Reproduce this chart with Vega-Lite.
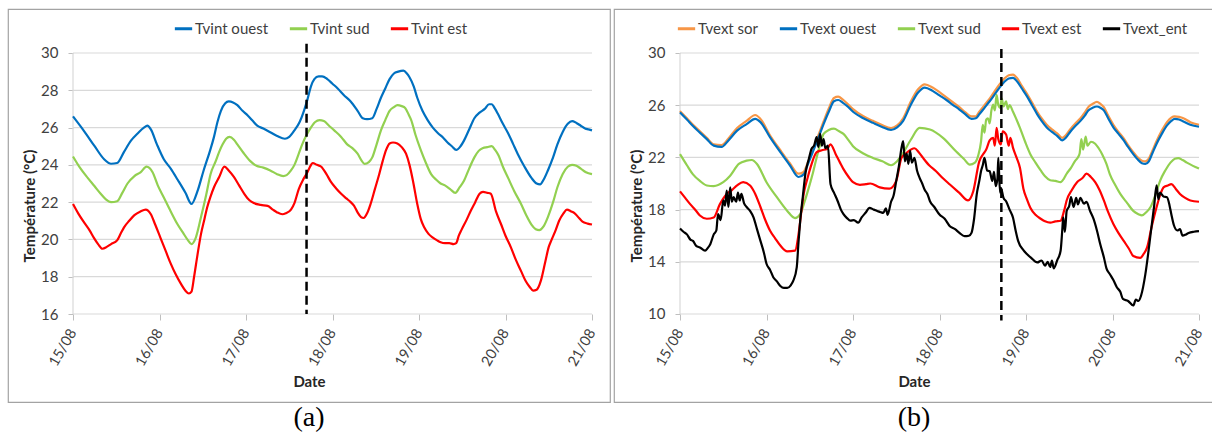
{
"$schema":"https://vega.github.io/schema/vega-lite/v6.json",
"background":"white",
"padding":{"left":7,"top":8,"right":0,"bottom":0},
"spacing":2,
"resolve":{"scale":{"color":"independent"},"legend":{"color":"independent"}},
"config":{
 "view":{"stroke":"#a3a3a3","strokeWidth":1.2},
 "font":"Lato",
 "axis":{"domain":false,"grid":false,"tickColor":"#bfbfbf","tickWidth":1,"labelFont":"Lato","labelColor":"#404040","titleFont":"Lato","titleFontSize":15,"titleFontWeight":"bold","titleColor":"#262626","labelFlush":false,"labelOverlap":false,"labelBound":false},
 "axisX":{"labelFontSize":14.5},
 "axisY":{"labelFontSize":15},
 "legend":{"orient":"none","direction":"horizontal","title":null,"symbolType":"stroke","symbolSize":300,"symbolStrokeWidth":3,"labelFont":"Lato","labelFontSize":15,"labelColor":"#404040","labelOffset":1,"columnPadding":14,"padding":0}
},
"datasets":{
"a":[
{"s":"Tvint ouest","d":15.00,"T":26.6},{"s":"Tvint ouest","d":15.13,"T":25.8},{"s":"Tvint ouest","d":15.25,"T":25.0},{"s":"Tvint ouest","d":15.36,"T":24.3},{"s":"Tvint ouest","d":15.44,"T":24.06},{"s":"Tvint ouest","d":15.51,"T":24.1},{"s":"Tvint ouest","d":15.59,"T":24.7},{"s":"Tvint ouest","d":15.67,"T":25.3},{"s":"Tvint ouest","d":15.75,"T":25.7},{"s":"Tvint ouest","d":15.82,"T":26.0},{"s":"Tvint ouest","d":15.86,"T":26.1},{"s":"Tvint ouest","d":15.90,"T":25.9},{"s":"Tvint ouest","d":15.97,"T":25.1},{"s":"Tvint ouest","d":16.05,"T":24.3},{"s":"Tvint ouest","d":16.13,"T":23.8},{"s":"Tvint ouest","d":16.21,"T":23.2},{"s":"Tvint ouest","d":16.30,"T":22.5},{"s":"Tvint ouest","d":16.37,"T":21.9},{"s":"Tvint ouest","d":16.44,"T":22.6},{"s":"Tvint ouest","d":16.51,"T":23.7},{"s":"Tvint ouest","d":16.58,"T":24.7},{"s":"Tvint ouest","d":16.63,"T":25.5},{"s":"Tvint ouest","d":16.67,"T":26.3},{"s":"Tvint ouest","d":16.71,"T":26.9},{"s":"Tvint ouest","d":16.76,"T":27.3},{"s":"Tvint ouest","d":16.80,"T":27.4},{"s":"Tvint ouest","d":16.85,"T":27.35},{"s":"Tvint ouest","d":16.90,"T":27.2},{"s":"Tvint ouest","d":16.96,"T":26.9},{"s":"Tvint ouest","d":17.02,"T":26.65},{"s":"Tvint ouest","d":17.08,"T":26.35},{"s":"Tvint ouest","d":17.13,"T":26.1},{"s":"Tvint ouest","d":17.20,"T":25.95},{"s":"Tvint ouest","d":17.28,"T":25.75},{"s":"Tvint ouest","d":17.36,"T":25.55},{"s":"Tvint ouest","d":17.45,"T":25.4},{"s":"Tvint ouest","d":17.50,"T":25.5},{"s":"Tvint ouest","d":17.56,"T":25.85},{"s":"Tvint ouest","d":17.62,"T":26.3},{"s":"Tvint ouest","d":17.67,"T":26.9},{"s":"Tvint ouest","d":17.71,"T":27.5},{"s":"Tvint ouest","d":17.75,"T":28.2},{"s":"Tvint ouest","d":17.79,"T":28.6},{"s":"Tvint ouest","d":17.84,"T":28.75},{"s":"Tvint ouest","d":17.88,"T":28.75},{"s":"Tvint ouest","d":17.94,"T":28.6},{"s":"Tvint ouest","d":18.00,"T":28.35},{"s":"Tvint ouest","d":18.06,"T":28.1},{"s":"Tvint ouest","d":18.13,"T":27.75},{"s":"Tvint ouest","d":18.21,"T":27.4},{"s":"Tvint ouest","d":18.29,"T":26.9},{"s":"Tvint ouest","d":18.35,"T":26.5},{"s":"Tvint ouest","d":18.40,"T":26.45},{"s":"Tvint ouest","d":18.46,"T":26.5},{"s":"Tvint ouest","d":18.51,"T":27.0},{"s":"Tvint ouest","d":18.56,"T":27.6},{"s":"Tvint ouest","d":18.61,"T":28.1},{"s":"Tvint ouest","d":18.66,"T":28.6},{"s":"Tvint ouest","d":18.71,"T":28.9},{"s":"Tvint ouest","d":18.76,"T":29.0},{"s":"Tvint ouest","d":18.82,"T":29.05},{"s":"Tvint ouest","d":18.86,"T":28.9},{"s":"Tvint ouest","d":18.89,"T":28.7},{"s":"Tvint ouest","d":18.94,"T":28.2},{"s":"Tvint ouest","d":18.98,"T":27.6},{"s":"Tvint ouest","d":19.04,"T":26.9},{"s":"Tvint ouest","d":19.10,"T":26.4},{"s":"Tvint ouest","d":19.16,"T":26.0},{"s":"Tvint ouest","d":19.22,"T":25.7},{"s":"Tvint ouest","d":19.28,"T":25.45},{"s":"Tvint ouest","d":19.33,"T":25.2},{"s":"Tvint ouest","d":19.38,"T":25.0},{"s":"Tvint ouest","d":19.43,"T":24.8},{"s":"Tvint ouest","d":19.48,"T":25.0},{"s":"Tvint ouest","d":19.52,"T":25.3},{"s":"Tvint ouest","d":19.58,"T":25.9},{"s":"Tvint ouest","d":19.64,"T":26.5},{"s":"Tvint ouest","d":19.70,"T":26.8},{"s":"Tvint ouest","d":19.76,"T":27.0},{"s":"Tvint ouest","d":19.81,"T":27.25},{"s":"Tvint ouest","d":19.84,"T":27.25},{"s":"Tvint ouest","d":19.88,"T":27.0},{"s":"Tvint ouest","d":19.91,"T":26.75},{"s":"Tvint ouest","d":19.97,"T":26.2},{"s":"Tvint ouest","d":20.03,"T":25.7},{"s":"Tvint ouest","d":20.09,"T":25.1},{"s":"Tvint ouest","d":20.14,"T":24.6},{"s":"Tvint ouest","d":20.22,"T":23.9},{"s":"Tvint ouest","d":20.30,"T":23.3},{"s":"Tvint ouest","d":20.36,"T":23.0},{"s":"Tvint ouest","d":20.40,"T":22.95},{"s":"Tvint ouest","d":20.44,"T":23.2},{"s":"Tvint ouest","d":20.49,"T":23.7},{"s":"Tvint ouest","d":20.55,"T":24.4},{"s":"Tvint ouest","d":20.60,"T":25.1},{"s":"Tvint ouest","d":20.66,"T":25.75},{"s":"Tvint ouest","d":20.72,"T":26.2},{"s":"Tvint ouest","d":20.77,"T":26.35},{"s":"Tvint ouest","d":20.82,"T":26.25},{"s":"Tvint ouest","d":20.87,"T":26.1},{"s":"Tvint ouest","d":20.92,"T":25.95},{"s":"Tvint ouest","d":20.96,"T":25.9},{"s":"Tvint ouest","d":21.00,"T":25.85},
{"s":"Tvint sud","d":15.00,"T":24.45},{"s":"Tvint sud","d":15.08,"T":23.85},{"s":"Tvint sud","d":15.17,"T":23.3},{"s":"Tvint sud","d":15.25,"T":22.85},{"s":"Tvint sud","d":15.32,"T":22.45},{"s":"Tvint sud","d":15.38,"T":22.15},{"s":"Tvint sud","d":15.44,"T":22.0},{"s":"Tvint sud","d":15.51,"T":22.05},{"s":"Tvint sud","d":15.57,"T":22.5},{"s":"Tvint sud","d":15.63,"T":23.0},{"s":"Tvint sud","d":15.71,"T":23.4},{"s":"Tvint sud","d":15.78,"T":23.6},{"s":"Tvint sud","d":15.85,"T":23.9},{"s":"Tvint sud","d":15.92,"T":23.6},{"s":"Tvint sud","d":15.98,"T":22.9},{"s":"Tvint sud","d":16.05,"T":22.25},{"s":"Tvint sud","d":16.13,"T":21.5},{"s":"Tvint sud","d":16.21,"T":20.8},{"s":"Tvint sud","d":16.28,"T":20.3},{"s":"Tvint sud","d":16.33,"T":19.95},{"s":"Tvint sud","d":16.37,"T":19.75},{"s":"Tvint sud","d":16.42,"T":20.1},{"s":"Tvint sud","d":16.48,"T":21.2},{"s":"Tvint sud","d":16.54,"T":22.4},{"s":"Tvint sud","d":16.59,"T":23.5},{"s":"Tvint sud","d":16.65,"T":24.2},{"s":"Tvint sud","d":16.69,"T":24.7},{"s":"Tvint sud","d":16.73,"T":25.1},{"s":"Tvint sud","d":16.77,"T":25.4},{"s":"Tvint sud","d":16.81,"T":25.5},{"s":"Tvint sud","d":16.86,"T":25.35},{"s":"Tvint sud","d":16.90,"T":25.1},{"s":"Tvint sud","d":16.97,"T":24.65},{"s":"Tvint sud","d":17.05,"T":24.2},{"s":"Tvint sud","d":17.12,"T":23.95},{"s":"Tvint sud","d":17.20,"T":23.85},{"s":"Tvint sud","d":17.28,"T":23.7},{"s":"Tvint sud","d":17.36,"T":23.5},{"s":"Tvint sud","d":17.43,"T":23.4},{"s":"Tvint sud","d":17.47,"T":23.45},{"s":"Tvint sud","d":17.52,"T":23.7},{"s":"Tvint sud","d":17.56,"T":24.0},{"s":"Tvint sud","d":17.61,"T":24.6},{"s":"Tvint sud","d":17.65,"T":25.1},{"s":"Tvint sud","d":17.70,"T":25.6},{"s":"Tvint sud","d":17.75,"T":26.0},{"s":"Tvint sud","d":17.80,"T":26.3},{"s":"Tvint sud","d":17.85,"T":26.4},{"s":"Tvint sud","d":17.90,"T":26.35},{"s":"Tvint sud","d":17.96,"T":26.1},{"s":"Tvint sud","d":18.02,"T":25.85},{"s":"Tvint sud","d":18.10,"T":25.5},{"s":"Tvint sud","d":18.17,"T":25.1},{"s":"Tvint sud","d":18.23,"T":24.9},{"s":"Tvint sud","d":18.29,"T":24.6},{"s":"Tvint sud","d":18.34,"T":24.2},{"s":"Tvint sud","d":18.37,"T":24.05},{"s":"Tvint sud","d":18.42,"T":24.15},{"s":"Tvint sud","d":18.46,"T":24.4},{"s":"Tvint sud","d":18.51,"T":25.1},{"s":"Tvint sud","d":18.56,"T":25.85},{"s":"Tvint sud","d":18.61,"T":26.4},{"s":"Tvint sud","d":18.66,"T":26.9},{"s":"Tvint sud","d":18.71,"T":27.1},{"s":"Tvint sud","d":18.75,"T":27.2},{"s":"Tvint sud","d":18.80,"T":27.15},{"s":"Tvint sud","d":18.84,"T":27.05},{"s":"Tvint sud","d":18.88,"T":26.7},{"s":"Tvint sud","d":18.91,"T":26.4},{"s":"Tvint sud","d":18.96,"T":25.6},{"s":"Tvint sud","d":19.02,"T":24.8},{"s":"Tvint sud","d":19.08,"T":24.1},{"s":"Tvint sud","d":19.14,"T":23.5},{"s":"Tvint sud","d":19.20,"T":23.2},{"s":"Tvint sud","d":19.25,"T":23.0},{"s":"Tvint sud","d":19.30,"T":22.9},{"s":"Tvint sud","d":19.36,"T":22.7},{"s":"Tvint sud","d":19.42,"T":22.5},{"s":"Tvint sud","d":19.47,"T":22.8},{"s":"Tvint sud","d":19.52,"T":23.15},{"s":"Tvint sud","d":19.58,"T":23.8},{"s":"Tvint sud","d":19.64,"T":24.4},{"s":"Tvint sud","d":19.69,"T":24.75},{"s":"Tvint sud","d":19.74,"T":24.9},{"s":"Tvint sud","d":19.79,"T":24.95},{"s":"Tvint sud","d":19.84,"T":25.0},{"s":"Tvint sud","d":19.88,"T":24.8},{"s":"Tvint sud","d":19.92,"T":24.5},{"s":"Tvint sud","d":19.97,"T":23.9},{"s":"Tvint sud","d":20.03,"T":23.3},{"s":"Tvint sud","d":20.10,"T":22.6},{"s":"Tvint sud","d":20.18,"T":21.9},{"s":"Tvint sud","d":20.24,"T":21.3},{"s":"Tvint sud","d":20.30,"T":20.8},{"s":"Tvint sud","d":20.35,"T":20.55},{"s":"Tvint sud","d":20.39,"T":20.5},{"s":"Tvint sud","d":20.44,"T":20.7},{"s":"Tvint sud","d":20.49,"T":21.2},{"s":"Tvint sud","d":20.55,"T":22.0},{"s":"Tvint sud","d":20.60,"T":22.8},{"s":"Tvint sud","d":20.66,"T":23.5},{"s":"Tvint sud","d":20.72,"T":23.9},{"s":"Tvint sud","d":20.77,"T":24.0},{"s":"Tvint sud","d":20.82,"T":23.95},{"s":"Tvint sud","d":20.87,"T":23.8},{"s":"Tvint sud","d":20.93,"T":23.6},{"s":"Tvint sud","d":21.00,"T":23.5},
{"s":"Tvint est","d":15.00,"T":21.9},{"s":"Tvint est","d":15.06,"T":21.4},{"s":"Tvint est","d":15.13,"T":20.9},{"s":"Tvint est","d":15.19,"T":20.5},{"s":"Tvint est","d":15.24,"T":20.1},{"s":"Tvint est","d":15.29,"T":19.75},{"s":"Tvint est","d":15.34,"T":19.5},{"s":"Tvint est","d":15.39,"T":19.6},{"s":"Tvint est","d":15.44,"T":19.75},{"s":"Tvint est","d":15.51,"T":19.95},{"s":"Tvint est","d":15.55,"T":20.3},{"s":"Tvint est","d":15.59,"T":20.65},{"s":"Tvint est","d":15.65,"T":21.0},{"s":"Tvint est","d":15.71,"T":21.3},{"s":"Tvint est","d":15.78,"T":21.5},{"s":"Tvint est","d":15.84,"T":21.6},{"s":"Tvint est","d":15.90,"T":21.35},{"s":"Tvint est","d":15.95,"T":20.8},{"s":"Tvint est","d":16.01,"T":20.1},{"s":"Tvint est","d":16.07,"T":19.4},{"s":"Tvint est","d":16.13,"T":18.7},{"s":"Tvint est","d":16.19,"T":18.1},{"s":"Tvint est","d":16.25,"T":17.6},{"s":"Tvint est","d":16.30,"T":17.25},{"s":"Tvint est","d":16.34,"T":17.1},{"s":"Tvint est","d":16.37,"T":17.2},{"s":"Tvint est","d":16.40,"T":18.0},{"s":"Tvint est","d":16.44,"T":19.2},{"s":"Tvint est","d":16.48,"T":20.3},{"s":"Tvint est","d":16.52,"T":21.1},{"s":"Tvint est","d":16.55,"T":21.7},{"s":"Tvint est","d":16.59,"T":22.3},{"s":"Tvint est","d":16.63,"T":22.8},{"s":"Tvint est","d":16.69,"T":23.35},{"s":"Tvint est","d":16.75,"T":23.9},{"s":"Tvint est","d":16.80,"T":23.7},{"s":"Tvint est","d":16.86,"T":23.35},{"s":"Tvint est","d":16.92,"T":22.9},{"s":"Tvint est","d":16.98,"T":22.45},{"s":"Tvint est","d":17.04,"T":22.1},{"s":"Tvint est","d":17.09,"T":21.95},{"s":"Tvint est","d":17.17,"T":21.85},{"s":"Tvint est","d":17.25,"T":21.8},{"s":"Tvint est","d":17.31,"T":21.6},{"s":"Tvint est","d":17.36,"T":21.45},{"s":"Tvint est","d":17.42,"T":21.35},{"s":"Tvint est","d":17.46,"T":21.4},{"s":"Tvint est","d":17.52,"T":21.6},{"s":"Tvint est","d":17.56,"T":21.95},{"s":"Tvint est","d":17.61,"T":22.7},{"s":"Tvint est","d":17.66,"T":23.2},{"s":"Tvint est","d":17.71,"T":23.6},{"s":"Tvint est","d":17.74,"T":23.9},{"s":"Tvint est","d":17.77,"T":24.1},{"s":"Tvint est","d":17.82,"T":24.0},{"s":"Tvint est","d":17.87,"T":23.9},{"s":"Tvint est","d":17.93,"T":23.5},{"s":"Tvint est","d":17.98,"T":23.1},{"s":"Tvint est","d":18.04,"T":22.75},{"s":"Tvint est","d":18.10,"T":22.45},{"s":"Tvint est","d":18.16,"T":22.2},{"s":"Tvint est","d":18.21,"T":22.0},{"s":"Tvint est","d":18.25,"T":21.8},{"s":"Tvint est","d":18.29,"T":21.45},{"s":"Tvint est","d":18.33,"T":21.2},{"s":"Tvint est","d":18.36,"T":21.15},{"s":"Tvint est","d":18.40,"T":21.4},{"s":"Tvint est","d":18.44,"T":21.9},{"s":"Tvint est","d":18.49,"T":22.7},{"s":"Tvint est","d":18.54,"T":23.5},{"s":"Tvint est","d":18.58,"T":24.2},{"s":"Tvint est","d":18.62,"T":24.8},{"s":"Tvint est","d":18.66,"T":25.15},{"s":"Tvint est","d":18.70,"T":25.2},{"s":"Tvint est","d":18.75,"T":25.15},{"s":"Tvint est","d":18.80,"T":24.95},{"s":"Tvint est","d":18.85,"T":24.6},{"s":"Tvint est","d":18.89,"T":24.0},{"s":"Tvint est","d":18.93,"T":23.15},{"s":"Tvint est","d":18.98,"T":21.9},{"s":"Tvint est","d":19.02,"T":21.1},{"s":"Tvint est","d":19.06,"T":20.65},{"s":"Tvint est","d":19.11,"T":20.3},{"s":"Tvint est","d":19.16,"T":20.1},{"s":"Tvint est","d":19.21,"T":19.95},{"s":"Tvint est","d":19.25,"T":19.85},{"s":"Tvint est","d":19.30,"T":19.8},{"s":"Tvint est","d":19.35,"T":19.8},{"s":"Tvint est","d":19.40,"T":19.75},{"s":"Tvint est","d":19.43,"T":19.8},{"s":"Tvint est","d":19.46,"T":20.2},{"s":"Tvint est","d":19.49,"T":20.5},{"s":"Tvint est","d":19.55,"T":21.05},{"s":"Tvint est","d":19.60,"T":21.55},{"s":"Tvint est","d":19.65,"T":22.0},{"s":"Tvint est","d":19.70,"T":22.45},{"s":"Tvint est","d":19.74,"T":22.55},{"s":"Tvint est","d":19.79,"T":22.5},{"s":"Tvint est","d":19.83,"T":22.45},{"s":"Tvint est","d":19.89,"T":21.5},{"s":"Tvint est","d":19.95,"T":20.8},{"s":"Tvint est","d":20.00,"T":20.2},{"s":"Tvint est","d":20.06,"T":19.6},{"s":"Tvint est","d":20.12,"T":18.9},{"s":"Tvint est","d":20.18,"T":18.3},{"s":"Tvint est","d":20.23,"T":17.8},{"s":"Tvint est","d":20.28,"T":17.45},{"s":"Tvint est","d":20.32,"T":17.25},{"s":"Tvint est","d":20.36,"T":17.3},{"s":"Tvint est","d":20.41,"T":17.8},{"s":"Tvint est","d":20.46,"T":18.8},{"s":"Tvint est","d":20.50,"T":19.6},{"s":"Tvint est","d":20.53,"T":19.95},{"s":"Tvint est","d":20.58,"T":20.5},{"s":"Tvint est","d":20.62,"T":21.0},{"s":"Tvint est","d":20.67,"T":21.4},{"s":"Tvint est","d":20.71,"T":21.6},{"s":"Tvint est","d":20.76,"T":21.5},{"s":"Tvint est","d":20.80,"T":21.4},{"s":"Tvint est","d":20.85,"T":21.15},{"s":"Tvint est","d":20.89,"T":20.95},{"s":"Tvint est","d":20.95,"T":20.85},{"s":"Tvint est","d":21.00,"T":20.8}
],
"b":[
{"s":"Tvext sor","d":15.00,"T":25.55},{"s":"Tvext sor","d":15.08,"T":25.0},{"s":"Tvext sor","d":15.15,"T":24.5},{"s":"Tvext sor","d":15.23,"T":24.0},{"s":"Tvext sor","d":15.31,"T":23.5},{"s":"Tvext sor","d":15.39,"T":23.0},{"s":"Tvext sor","d":15.48,"T":22.95},{"s":"Tvext sor","d":15.56,"T":23.45},{"s":"Tvext sor","d":15.66,"T":24.25},{"s":"Tvext sor","d":15.77,"T":24.8},{"s":"Tvext sor","d":15.87,"T":25.25},{"s":"Tvext sor","d":15.93,"T":24.95},{"s":"Tvext sor","d":16.04,"T":23.7},{"s":"Tvext sor","d":16.16,"T":22.55},{"s":"Tvext sor","d":16.27,"T":21.55},{"s":"Tvext sor","d":16.37,"T":20.75},{"s":"Tvext sor","d":16.43,"T":20.9},{"s":"Tvext sor","d":16.48,"T":21.65},{"s":"Tvext sor","d":16.54,"T":22.65},{"s":"Tvext sor","d":16.60,"T":23.7},{"s":"Tvext sor","d":16.66,"T":24.75},{"s":"Tvext sor","d":16.72,"T":25.75},{"s":"Tvext sor","d":16.78,"T":26.55},{"s":"Tvext sor","d":16.83,"T":26.65},{"s":"Tvext sor","d":16.88,"T":26.45},{"s":"Tvext sor","d":16.93,"T":26.15},{"s":"Tvext sor","d":17.00,"T":25.7},{"s":"Tvext sor","d":17.12,"T":25.15},{"s":"Tvext sor","d":17.23,"T":24.8},{"s":"Tvext sor","d":17.33,"T":24.5},{"s":"Tvext sor","d":17.44,"T":24.25},{"s":"Tvext sor","d":17.51,"T":24.45},{"s":"Tvext sor","d":17.58,"T":25.0},{"s":"Tvext sor","d":17.67,"T":26.3},{"s":"Tvext sor","d":17.75,"T":27.2},{"s":"Tvext sor","d":17.83,"T":27.6},{"s":"Tvext sor","d":17.92,"T":27.35},{"s":"Tvext sor","d":18.00,"T":27.0},{"s":"Tvext sor","d":18.08,"T":26.6},{"s":"Tvext sor","d":18.15,"T":26.25},{"s":"Tvext sor","d":18.23,"T":25.85},{"s":"Tvext sor","d":18.30,"T":25.45},{"s":"Tvext sor","d":18.37,"T":25.15},{"s":"Tvext sor","d":18.42,"T":25.15},{"s":"Tvext sor","d":18.46,"T":25.5},{"s":"Tvext sor","d":18.52,"T":26.0},{"s":"Tvext sor","d":18.58,"T":26.5},{"s":"Tvext sor","d":18.64,"T":27.1},{"s":"Tvext sor","d":18.70,"T":27.65},{"s":"Tvext sor","d":18.75,"T":28.05},{"s":"Tvext sor","d":18.80,"T":28.3},{"s":"Tvext sor","d":18.85,"T":28.35},{"s":"Tvext sor","d":18.90,"T":28.05},{"s":"Tvext sor","d":18.95,"T":27.5},{"s":"Tvext sor","d":19.01,"T":26.9},{"s":"Tvext sor","d":19.07,"T":26.2},{"s":"Tvext sor","d":19.13,"T":25.5},{"s":"Tvext sor","d":19.18,"T":25.0},{"s":"Tvext sor","d":19.24,"T":24.5},{"s":"Tvext sor","d":19.30,"T":24.15},{"s":"Tvext sor","d":19.36,"T":23.85},{"s":"Tvext sor","d":19.42,"T":23.5},{"s":"Tvext sor","d":19.46,"T":23.7},{"s":"Tvext sor","d":19.51,"T":24.15},{"s":"Tvext sor","d":19.57,"T":24.6},{"s":"Tvext sor","d":19.63,"T":25.0},{"s":"Tvext sor","d":19.68,"T":25.45},{"s":"Tvext sor","d":19.72,"T":25.85},{"s":"Tvext sor","d":19.77,"T":26.1},{"s":"Tvext sor","d":19.82,"T":26.25},{"s":"Tvext sor","d":19.86,"T":26.1},{"s":"Tvext sor","d":19.90,"T":25.85},{"s":"Tvext sor","d":19.95,"T":25.2},{"s":"Tvext sor","d":20.01,"T":24.5},{"s":"Tvext sor","d":20.07,"T":23.95},{"s":"Tvext sor","d":20.13,"T":23.45},{"s":"Tvext sor","d":20.18,"T":22.95},{"s":"Tvext sor","d":20.24,"T":22.4},{"s":"Tvext sor","d":20.29,"T":22.0},{"s":"Tvext sor","d":20.34,"T":21.75},{"s":"Tvext sor","d":20.38,"T":21.7},{"s":"Tvext sor","d":20.42,"T":21.9},{"s":"Tvext sor","d":20.46,"T":22.5},{"s":"Tvext sor","d":20.51,"T":23.25},{"s":"Tvext sor","d":20.57,"T":24.05},{"s":"Tvext sor","d":20.63,"T":24.7},{"s":"Tvext sor","d":20.68,"T":25.05},{"s":"Tvext sor","d":20.72,"T":25.15},{"s":"Tvext sor","d":20.77,"T":25.1},{"s":"Tvext sor","d":20.82,"T":25.0},{"s":"Tvext sor","d":20.90,"T":24.7},{"s":"Tvext sor","d":21.00,"T":24.5},
{"s":"Tvext ouest","d":15.00,"T":25.45},{"s":"Tvext ouest","d":15.08,"T":24.9},{"s":"Tvext ouest","d":15.15,"T":24.4},{"s":"Tvext ouest","d":15.23,"T":23.9},{"s":"Tvext ouest","d":15.31,"T":23.4},{"s":"Tvext ouest","d":15.39,"T":22.9},{"s":"Tvext ouest","d":15.48,"T":22.8},{"s":"Tvext ouest","d":15.56,"T":23.3},{"s":"Tvext ouest","d":15.66,"T":24.05},{"s":"Tvext ouest","d":15.77,"T":24.55},{"s":"Tvext ouest","d":15.87,"T":24.95},{"s":"Tvext ouest","d":15.93,"T":24.7},{"s":"Tvext ouest","d":16.04,"T":23.55},{"s":"Tvext ouest","d":16.16,"T":22.4},{"s":"Tvext ouest","d":16.27,"T":21.4},{"s":"Tvext ouest","d":16.37,"T":20.5},{"s":"Tvext ouest","d":16.43,"T":20.7},{"s":"Tvext ouest","d":16.48,"T":21.5},{"s":"Tvext ouest","d":16.54,"T":22.5},{"s":"Tvext ouest","d":16.60,"T":23.5},{"s":"Tvext ouest","d":16.66,"T":24.55},{"s":"Tvext ouest","d":16.72,"T":25.5},{"s":"Tvext ouest","d":16.78,"T":26.3},{"s":"Tvext ouest","d":16.83,"T":26.4},{"s":"Tvext ouest","d":16.88,"T":26.2},{"s":"Tvext ouest","d":16.93,"T":25.95},{"s":"Tvext ouest","d":17.00,"T":25.5},{"s":"Tvext ouest","d":17.12,"T":25.0},{"s":"Tvext ouest","d":17.23,"T":24.65},{"s":"Tvext ouest","d":17.33,"T":24.35},{"s":"Tvext ouest","d":17.44,"T":24.1},{"s":"Tvext ouest","d":17.51,"T":24.3},{"s":"Tvext ouest","d":17.58,"T":24.8},{"s":"Tvext ouest","d":17.67,"T":26.05},{"s":"Tvext ouest","d":17.75,"T":26.95},{"s":"Tvext ouest","d":17.83,"T":27.35},{"s":"Tvext ouest","d":17.92,"T":27.1},{"s":"Tvext ouest","d":18.00,"T":26.75},{"s":"Tvext ouest","d":18.08,"T":26.4},{"s":"Tvext ouest","d":18.15,"T":26.05},{"s":"Tvext ouest","d":18.23,"T":25.67},{"s":"Tvext ouest","d":18.30,"T":25.3},{"s":"Tvext ouest","d":18.37,"T":24.95},{"s":"Tvext ouest","d":18.42,"T":25.0},{"s":"Tvext ouest","d":18.46,"T":25.3},{"s":"Tvext ouest","d":18.52,"T":25.8},{"s":"Tvext ouest","d":18.58,"T":26.3},{"s":"Tvext ouest","d":18.64,"T":26.85},{"s":"Tvext ouest","d":18.70,"T":27.4},{"s":"Tvext ouest","d":18.75,"T":27.8},{"s":"Tvext ouest","d":18.80,"T":28.05},{"s":"Tvext ouest","d":18.85,"T":28.1},{"s":"Tvext ouest","d":18.90,"T":27.8},{"s":"Tvext ouest","d":18.95,"T":27.3},{"s":"Tvext ouest","d":19.01,"T":26.7},{"s":"Tvext ouest","d":19.07,"T":26.0},{"s":"Tvext ouest","d":19.13,"T":25.3},{"s":"Tvext ouest","d":19.18,"T":24.8},{"s":"Tvext ouest","d":19.24,"T":24.3},{"s":"Tvext ouest","d":19.30,"T":23.95},{"s":"Tvext ouest","d":19.36,"T":23.65},{"s":"Tvext ouest","d":19.42,"T":23.3},{"s":"Tvext ouest","d":19.46,"T":23.5},{"s":"Tvext ouest","d":19.51,"T":23.95},{"s":"Tvext ouest","d":19.57,"T":24.4},{"s":"Tvext ouest","d":19.63,"T":24.8},{"s":"Tvext ouest","d":19.68,"T":25.2},{"s":"Tvext ouest","d":19.72,"T":25.6},{"s":"Tvext ouest","d":19.77,"T":25.8},{"s":"Tvext ouest","d":19.82,"T":25.9},{"s":"Tvext ouest","d":19.86,"T":25.8},{"s":"Tvext ouest","d":19.90,"T":25.6},{"s":"Tvext ouest","d":19.95,"T":25.0},{"s":"Tvext ouest","d":20.01,"T":24.3},{"s":"Tvext ouest","d":20.07,"T":23.8},{"s":"Tvext ouest","d":20.13,"T":23.3},{"s":"Tvext ouest","d":20.18,"T":22.8},{"s":"Tvext ouest","d":20.24,"T":22.25},{"s":"Tvext ouest","d":20.29,"T":21.85},{"s":"Tvext ouest","d":20.34,"T":21.55},{"s":"Tvext ouest","d":20.38,"T":21.5},{"s":"Tvext ouest","d":20.42,"T":21.7},{"s":"Tvext ouest","d":20.46,"T":22.3},{"s":"Tvext ouest","d":20.51,"T":23.05},{"s":"Tvext ouest","d":20.57,"T":23.8},{"s":"Tvext ouest","d":20.63,"T":24.45},{"s":"Tvext ouest","d":20.68,"T":24.8},{"s":"Tvext ouest","d":20.72,"T":24.95},{"s":"Tvext ouest","d":20.77,"T":24.9},{"s":"Tvext ouest","d":20.82,"T":24.75},{"s":"Tvext ouest","d":20.90,"T":24.5},{"s":"Tvext ouest","d":21.00,"T":24.35},
{"s":"Tvext sud","d":15.00,"T":22.25},{"s":"Tvext sud","d":15.08,"T":21.4},{"s":"Tvext sud","d":15.15,"T":20.7},{"s":"Tvext sud","d":15.23,"T":20.2},{"s":"Tvext sud","d":15.31,"T":19.85},{"s":"Tvext sud","d":15.39,"T":19.8},{"s":"Tvext sud","d":15.50,"T":20.1},{"s":"Tvext sud","d":15.58,"T":20.6},{"s":"Tvext sud","d":15.68,"T":21.5},{"s":"Tvext sud","d":15.77,"T":21.75},{"s":"Tvext sud","d":15.83,"T":21.8},{"s":"Tvext sud","d":15.89,"T":21.5},{"s":"Tvext sud","d":16.00,"T":20.1},{"s":"Tvext sud","d":16.12,"T":18.95},{"s":"Tvext sud","d":16.24,"T":17.9},{"s":"Tvext sud","d":16.33,"T":17.35},{"s":"Tvext sud","d":16.39,"T":17.65},{"s":"Tvext sud","d":16.44,"T":18.6},{"s":"Tvext sud","d":16.49,"T":19.7},{"s":"Tvext sud","d":16.54,"T":20.9},{"s":"Tvext sud","d":16.58,"T":22.0},{"s":"Tvext sud","d":16.62,"T":23.0},{"s":"Tvext sud","d":16.66,"T":23.8},{"s":"Tvext sud","d":16.72,"T":24.1},{"s":"Tvext sud","d":16.78,"T":24.2},{"s":"Tvext sud","d":16.84,"T":24.0},{"s":"Tvext sud","d":16.89,"T":23.8},{"s":"Tvext sud","d":16.95,"T":23.3},{"s":"Tvext sud","d":17.00,"T":22.86},{"s":"Tvext sud","d":17.12,"T":22.3},{"s":"Tvext sud","d":17.23,"T":21.96},{"s":"Tvext sud","d":17.34,"T":21.7},{"s":"Tvext sud","d":17.44,"T":21.4},{"s":"Tvext sud","d":17.51,"T":21.7},{"s":"Tvext sud","d":17.58,"T":22.35},{"s":"Tvext sud","d":17.67,"T":23.37},{"s":"Tvext sud","d":17.77,"T":24.26},{"s":"Tvext sud","d":17.89,"T":24.14},{"s":"Tvext sud","d":18.04,"T":23.5},{"s":"Tvext sud","d":18.19,"T":22.47},{"s":"Tvext sud","d":18.28,"T":21.9},{"s":"Tvext sud","d":18.35,"T":21.45},{"s":"Tvext sud","d":18.41,"T":21.6},{"s":"Tvext sud","d":18.45,"T":22.2},{"s":"Tvext sud","d":18.48,"T":23.2},{"s":"Tvext sud","d":18.50,"T":24.5},{"s":"Tvext sud","d":18.52,"T":23.9},{"s":"Tvext sud","d":18.54,"T":24.9},{"s":"Tvext sud","d":18.56,"T":25.0},{"s":"Tvext sud","d":18.58,"T":24.6},{"s":"Tvext sud","d":18.60,"T":25.6},{"s":"Tvext sud","d":18.62,"T":26.05},{"s":"Tvext sud","d":18.64,"T":25.6},{"s":"Tvext sud","d":18.66,"T":26.8},{"s":"Tvext sud","d":18.68,"T":26.0},{"s":"Tvext sud","d":18.70,"T":25.8},{"s":"Tvext sud","d":18.72,"T":26.5},{"s":"Tvext sud","d":18.74,"T":25.9},{"s":"Tvext sud","d":18.77,"T":26.3},{"s":"Tvext sud","d":18.79,"T":25.7},{"s":"Tvext sud","d":18.81,"T":26.0},{"s":"Tvext sud","d":18.85,"T":25.5},{"s":"Tvext sud","d":18.89,"T":24.9},{"s":"Tvext sud","d":18.93,"T":24.26},{"s":"Tvext sud","d":18.99,"T":23.2},{"s":"Tvext sud","d":19.05,"T":22.25},{"s":"Tvext sud","d":19.11,"T":21.6},{"s":"Tvext sud","d":19.17,"T":21.0},{"s":"Tvext sud","d":19.22,"T":20.55},{"s":"Tvext sud","d":19.28,"T":20.25},{"s":"Tvext sud","d":19.34,"T":20.2},{"s":"Tvext sud","d":19.40,"T":20.1},{"s":"Tvext sud","d":19.44,"T":20.4},{"s":"Tvext sud","d":19.47,"T":20.75},{"s":"Tvext sud","d":19.52,"T":21.2},{"s":"Tvext sud","d":19.57,"T":21.75},{"s":"Tvext sud","d":19.60,"T":22.0},{"s":"Tvext sud","d":19.62,"T":22.3},{"s":"Tvext sud","d":19.64,"T":23.4},{"s":"Tvext sud","d":19.66,"T":22.6},{"s":"Tvext sud","d":19.69,"T":23.6},{"s":"Tvext sud","d":19.71,"T":22.9},{"s":"Tvext sud","d":19.75,"T":23.2},{"s":"Tvext sud","d":19.80,"T":23.05},{"s":"Tvext sud","d":19.84,"T":22.7},{"s":"Tvext sud","d":19.88,"T":22.25},{"s":"Tvext sud","d":19.93,"T":21.5},{"s":"Tvext sud","d":19.97,"T":20.7},{"s":"Tvext sud","d":20.03,"T":19.9},{"s":"Tvext sud","d":20.09,"T":19.2},{"s":"Tvext sud","d":20.17,"T":18.5},{"s":"Tvext sud","d":20.24,"T":17.9},{"s":"Tvext sud","d":20.30,"T":17.65},{"s":"Tvext sud","d":20.34,"T":17.55},{"s":"Tvext sud","d":20.39,"T":17.8},{"s":"Tvext sud","d":20.44,"T":18.2},{"s":"Tvext sud","d":20.50,"T":19.2},{"s":"Tvext sud","d":20.55,"T":20.2},{"s":"Tvext sud","d":20.61,"T":21.0},{"s":"Tvext sud","d":20.67,"T":21.6},{"s":"Tvext sud","d":20.72,"T":21.9},{"s":"Tvext sud","d":20.76,"T":21.95},{"s":"Tvext sud","d":20.81,"T":21.8},{"s":"Tvext sud","d":20.86,"T":21.6},{"s":"Tvext sud","d":20.93,"T":21.35},{"s":"Tvext sud","d":21.00,"T":21.15},
{"s":"Tvext est","d":15.00,"T":19.4},{"s":"Tvext est","d":15.06,"T":18.9},{"s":"Tvext est","d":15.12,"T":18.4},{"s":"Tvext est","d":15.18,"T":17.95},{"s":"Tvext est","d":15.23,"T":17.55},{"s":"Tvext est","d":15.31,"T":17.3},{"s":"Tvext est","d":15.39,"T":17.4},{"s":"Tvext est","d":15.46,"T":18.4},{"s":"Tvext est","d":15.54,"T":19.2},{"s":"Tvext est","d":15.60,"T":19.5},{"s":"Tvext est","d":15.66,"T":19.85},{"s":"Tvext est","d":15.73,"T":20.1},{"s":"Tvext est","d":15.81,"T":19.85},{"s":"Tvext est","d":15.87,"T":19.2},{"s":"Tvext est","d":15.93,"T":18.2},{"s":"Tvext est","d":15.98,"T":17.3},{"s":"Tvext est","d":16.04,"T":16.4},{"s":"Tvext est","d":16.10,"T":15.8},{"s":"Tvext est","d":16.16,"T":15.25},{"s":"Tvext est","d":16.24,"T":14.8},{"s":"Tvext est","d":16.33,"T":14.85},{"s":"Tvext est","d":16.37,"T":16.1},{"s":"Tvext est","d":16.40,"T":17.7},{"s":"Tvext est","d":16.43,"T":19.2},{"s":"Tvext est","d":16.47,"T":20.3},{"s":"Tvext est","d":16.51,"T":21.25},{"s":"Tvext est","d":16.58,"T":22.4},{"s":"Tvext est","d":16.64,"T":22.55},{"s":"Tvext est","d":16.70,"T":22.65},{"s":"Tvext est","d":16.74,"T":23.0},{"s":"Tvext est","d":16.80,"T":22.25},{"s":"Tvext est","d":16.85,"T":21.6},{"s":"Tvext est","d":16.89,"T":21.1},{"s":"Tvext est","d":16.95,"T":20.5},{"s":"Tvext est","d":17.00,"T":20.1},{"s":"Tvext est","d":17.08,"T":19.9},{"s":"Tvext est","d":17.15,"T":19.95},{"s":"Tvext est","d":17.20,"T":20.0},{"s":"Tvext est","d":17.31,"T":19.7},{"s":"Tvext est","d":17.42,"T":19.6},{"s":"Tvext est","d":17.50,"T":20.2},{"s":"Tvext est","d":17.56,"T":21.96},{"s":"Tvext est","d":17.62,"T":22.35},{"s":"Tvext est","d":17.71,"T":22.7},{"s":"Tvext est","d":17.76,"T":22.4},{"s":"Tvext est","d":17.81,"T":21.96},{"s":"Tvext est","d":17.88,"T":21.4},{"s":"Tvext est","d":17.96,"T":20.94},{"s":"Tvext est","d":18.04,"T":20.4},{"s":"Tvext est","d":18.12,"T":19.92},{"s":"Tvext est","d":18.23,"T":19.28},{"s":"Tvext est","d":18.33,"T":18.7},{"s":"Tvext est","d":18.39,"T":19.4},{"s":"Tvext est","d":18.46,"T":21.7},{"s":"Tvext est","d":18.50,"T":22.2},{"s":"Tvext est","d":18.54,"T":22.6},{"s":"Tvext est","d":18.58,"T":23.3},{"s":"Tvext est","d":18.62,"T":23.5},{"s":"Tvext est","d":18.64,"T":22.9},{"s":"Tvext est","d":18.66,"T":24.26},{"s":"Tvext est","d":18.68,"T":23.4},{"s":"Tvext est","d":18.71,"T":23.0},{"s":"Tvext est","d":18.73,"T":24.0},{"s":"Tvext est","d":18.77,"T":23.75},{"s":"Tvext est","d":18.80,"T":22.9},{"s":"Tvext est","d":18.82,"T":23.5},{"s":"Tvext est","d":18.85,"T":22.73},{"s":"Tvext est","d":18.89,"T":22.0},{"s":"Tvext est","d":18.93,"T":21.2},{"s":"Tvext est","d":18.97,"T":19.6},{"s":"Tvext est","d":19.01,"T":18.8},{"s":"Tvext est","d":19.05,"T":18.15},{"s":"Tvext est","d":19.11,"T":17.6},{"s":"Tvext est","d":19.17,"T":17.3},{"s":"Tvext est","d":19.22,"T":17.1},{"s":"Tvext est","d":19.28,"T":17.0},{"s":"Tvext est","d":19.34,"T":17.1},{"s":"Tvext est","d":19.40,"T":17.15},{"s":"Tvext est","d":19.44,"T":17.9},{"s":"Tvext est","d":19.47,"T":18.7},{"s":"Tvext est","d":19.53,"T":19.5},{"s":"Tvext est","d":19.59,"T":20.1},{"s":"Tvext est","d":19.65,"T":20.4},{"s":"Tvext est","d":19.70,"T":20.75},{"s":"Tvext est","d":19.75,"T":20.5},{"s":"Tvext est","d":19.80,"T":20.1},{"s":"Tvext est","d":19.85,"T":19.5},{"s":"Tvext est","d":19.90,"T":18.7},{"s":"Tvext est","d":19.95,"T":17.8},{"s":"Tvext est","d":20.01,"T":16.9},{"s":"Tvext est","d":20.07,"T":16.2},{"s":"Tvext est","d":20.13,"T":15.6},{"s":"Tvext est","d":20.19,"T":15.0},{"s":"Tvext est","d":20.24,"T":14.45},{"s":"Tvext est","d":20.32,"T":14.3},{"s":"Tvext est","d":20.36,"T":14.6},{"s":"Tvext est","d":20.40,"T":15.1},{"s":"Tvext est","d":20.45,"T":16.6},{"s":"Tvext est","d":20.51,"T":18.2},{"s":"Tvext est","d":20.55,"T":19.1},{"s":"Tvext est","d":20.59,"T":19.7},{"s":"Tvext est","d":20.64,"T":19.85},{"s":"Tvext est","d":20.68,"T":19.95},{"s":"Tvext est","d":20.73,"T":19.6},{"s":"Tvext est","d":20.78,"T":19.2},{"s":"Tvext est","d":20.84,"T":18.9},{"s":"Tvext est","d":20.90,"T":18.7},{"s":"Tvext est","d":21.00,"T":18.6},
{"s":"Tvext_ent","d":15.00,"T":16.55},{"s":"Tvext_ent","d":15.04,"T":16.3},{"s":"Tvext_ent","d":15.08,"T":16.1},{"s":"Tvext_ent","d":15.12,"T":15.7},{"s":"Tvext_ent","d":15.15,"T":15.6},{"s":"Tvext_ent","d":15.19,"T":15.2},{"s":"Tvext_ent","d":15.23,"T":15.1},{"s":"Tvext_ent","d":15.29,"T":14.85},{"s":"Tvext_ent","d":15.32,"T":15.05},{"s":"Tvext_ent","d":15.35,"T":15.35},{"s":"Tvext_ent","d":15.39,"T":16.1},{"s":"Tvext_ent","d":15.42,"T":16.4},{"s":"Tvext_ent","d":15.44,"T":17.65},{"s":"Tvext_ent","d":15.47,"T":17.2},{"s":"Tvext_ent","d":15.50,"T":18.7},{"s":"Tvext_ent","d":15.52,"T":18.3},{"s":"Tvext_ent","d":15.54,"T":19.45},{"s":"Tvext_ent","d":15.56,"T":18.2},{"s":"Tvext_ent","d":15.58,"T":19.7},{"s":"Tvext_ent","d":15.60,"T":18.6},{"s":"Tvext_ent","d":15.62,"T":18.95},{"s":"Tvext_ent","d":15.65,"T":18.6},{"s":"Tvext_ent","d":15.67,"T":19.3},{"s":"Tvext_ent","d":15.69,"T":18.7},{"s":"Tvext_ent","d":15.71,"T":19.2},{"s":"Tvext_ent","d":15.74,"T":18.5},{"s":"Tvext_ent","d":15.77,"T":18.2},{"s":"Tvext_ent","d":15.81,"T":17.9},{"s":"Tvext_ent","d":15.85,"T":17.4},{"s":"Tvext_ent","d":15.89,"T":16.5},{"s":"Tvext_ent","d":15.93,"T":15.6},{"s":"Tvext_ent","d":15.97,"T":14.7},{"s":"Tvext_ent","d":16.00,"T":13.85},{"s":"Tvext_ent","d":16.04,"T":13.4},{"s":"Tvext_ent","d":16.08,"T":12.8},{"s":"Tvext_ent","d":16.12,"T":12.5},{"s":"Tvext_ent","d":16.16,"T":12.15},{"s":"Tvext_ent","d":16.20,"T":12.0},{"s":"Tvext_ent","d":16.24,"T":12.0},{"s":"Tvext_ent","d":16.28,"T":12.2},{"s":"Tvext_ent","d":16.31,"T":12.55},{"s":"Tvext_ent","d":16.35,"T":13.6},{"s":"Tvext_ent","d":16.37,"T":15.5},{"s":"Tvext_ent","d":16.39,"T":17.15},{"s":"Tvext_ent","d":16.42,"T":19.0},{"s":"Tvext_ent","d":16.45,"T":20.75},{"s":"Tvext_ent","d":16.49,"T":21.9},{"s":"Tvext_ent","d":16.52,"T":22.65},{"s":"Tvext_ent","d":16.55,"T":22.9},{"s":"Tvext_ent","d":16.58,"T":23.55},{"s":"Tvext_ent","d":16.60,"T":22.8},{"s":"Tvext_ent","d":16.62,"T":23.8},{"s":"Tvext_ent","d":16.64,"T":22.9},{"s":"Tvext_ent","d":16.66,"T":23.4},{"s":"Tvext_ent","d":16.68,"T":22.7},{"s":"Tvext_ent","d":16.71,"T":22.9},{"s":"Tvext_ent","d":16.74,"T":19.95},{"s":"Tvext_ent","d":16.78,"T":19.3},{"s":"Tvext_ent","d":16.82,"T":18.7},{"s":"Tvext_ent","d":16.86,"T":18.0},{"s":"Tvext_ent","d":16.89,"T":17.65},{"s":"Tvext_ent","d":16.93,"T":17.35},{"s":"Tvext_ent","d":16.97,"T":17.15},{"s":"Tvext_ent","d":17.01,"T":17.2},{"s":"Tvext_ent","d":17.06,"T":17.0},{"s":"Tvext_ent","d":17.10,"T":17.4},{"s":"Tvext_ent","d":17.15,"T":17.8},{"s":"Tvext_ent","d":17.19,"T":18.13},{"s":"Tvext_ent","d":17.24,"T":18.0},{"s":"Tvext_ent","d":17.28,"T":17.9},{"s":"Tvext_ent","d":17.32,"T":17.8},{"s":"Tvext_ent","d":17.35,"T":17.75},{"s":"Tvext_ent","d":17.38,"T":18.1},{"s":"Tvext_ent","d":17.40,"T":17.6},{"s":"Tvext_ent","d":17.44,"T":18.6},{"s":"Tvext_ent","d":17.47,"T":19.1},{"s":"Tvext_ent","d":17.50,"T":20.2},{"s":"Tvext_ent","d":17.53,"T":21.3},{"s":"Tvext_ent","d":17.56,"T":22.7},{"s":"Tvext_ent","d":17.58,"T":23.24},{"s":"Tvext_ent","d":17.60,"T":21.7},{"s":"Tvext_ent","d":17.62,"T":22.3},{"s":"Tvext_ent","d":17.64,"T":21.5},{"s":"Tvext_ent","d":17.66,"T":22.5},{"s":"Tvext_ent","d":17.68,"T":21.6},{"s":"Tvext_ent","d":17.71,"T":21.96},{"s":"Tvext_ent","d":17.74,"T":21.0},{"s":"Tvext_ent","d":17.77,"T":20.43},{"s":"Tvext_ent","d":17.80,"T":20.0},{"s":"Tvext_ent","d":17.83,"T":19.5},{"s":"Tvext_ent","d":17.86,"T":19.2},{"s":"Tvext_ent","d":17.89,"T":18.64},{"s":"Tvext_ent","d":17.94,"T":18.2},{"s":"Tvext_ent","d":18.00,"T":17.62},{"s":"Tvext_ent","d":18.06,"T":17.3},{"s":"Tvext_ent","d":18.12,"T":16.73},{"s":"Tvext_ent","d":18.18,"T":16.5},{"s":"Tvext_ent","d":18.23,"T":16.22},{"s":"Tvext_ent","d":18.29,"T":15.96},{"s":"Tvext_ent","d":18.34,"T":16.0},{"s":"Tvext_ent","d":18.37,"T":16.22},{"s":"Tvext_ent","d":18.40,"T":17.3},{"s":"Tvext_ent","d":18.43,"T":19.15},{"s":"Tvext_ent","d":18.46,"T":20.2},{"s":"Tvext_ent","d":18.48,"T":20.94},{"s":"Tvext_ent","d":18.50,"T":21.4},{"s":"Tvext_ent","d":18.52,"T":21.96},{"s":"Tvext_ent","d":18.55,"T":21.0},{"s":"Tvext_ent","d":18.58,"T":20.94},{"s":"Tvext_ent","d":18.61,"T":20.2},{"s":"Tvext_ent","d":18.63,"T":20.9},{"s":"Tvext_ent","d":18.65,"T":19.8},{"s":"Tvext_ent","d":18.67,"T":20.4},{"s":"Tvext_ent","d":18.68,"T":21.96},{"s":"Tvext_ent","d":18.70,"T":19.3},{"s":"Tvext_ent","d":18.71,"T":19.67},{"s":"Tvext_ent","d":18.74,"T":18.9},{"s":"Tvext_ent","d":18.77,"T":18.64},{"s":"Tvext_ent","d":18.81,"T":18.0},{"s":"Tvext_ent","d":18.85,"T":17.37},{"s":"Tvext_ent","d":18.88,"T":16.4},{"s":"Tvext_ent","d":18.91,"T":15.58},{"s":"Tvext_ent","d":18.97,"T":14.9},{"s":"Tvext_ent","d":19.01,"T":14.6},{"s":"Tvext_ent","d":19.06,"T":14.3},{"s":"Tvext_ent","d":19.13,"T":13.95},{"s":"Tvext_ent","d":19.18,"T":14.1},{"s":"Tvext_ent","d":19.22,"T":13.7},{"s":"Tvext_ent","d":19.25,"T":14.0},{"s":"Tvext_ent","d":19.28,"T":13.6},{"s":"Tvext_ent","d":19.30,"T":14.1},{"s":"Tvext_ent","d":19.32,"T":13.5},{"s":"Tvext_ent","d":19.36,"T":14.1},{"s":"Tvext_ent","d":19.40,"T":14.85},{"s":"Tvext_ent","d":19.42,"T":16.5},{"s":"Tvext_ent","d":19.43,"T":17.4},{"s":"Tvext_ent","d":19.45,"T":16.3},{"s":"Tvext_ent","d":19.47,"T":17.9},{"s":"Tvext_ent","d":19.50,"T":18.3},{"s":"Tvext_ent","d":19.52,"T":18.95},{"s":"Tvext_ent","d":19.55,"T":18.2},{"s":"Tvext_ent","d":19.58,"T":18.9},{"s":"Tvext_ent","d":19.60,"T":18.4},{"s":"Tvext_ent","d":19.63,"T":18.9},{"s":"Tvext_ent","d":19.67,"T":18.45},{"s":"Tvext_ent","d":19.70,"T":18.6},{"s":"Tvext_ent","d":19.74,"T":17.9},{"s":"Tvext_ent","d":19.78,"T":17.3},{"s":"Tvext_ent","d":19.82,"T":16.4},{"s":"Tvext_ent","d":19.86,"T":15.3},{"s":"Tvext_ent","d":19.90,"T":14.35},{"s":"Tvext_ent","d":19.93,"T":13.5},{"s":"Tvext_ent","d":19.97,"T":13.05},{"s":"Tvext_ent","d":20.01,"T":12.6},{"s":"Tvext_ent","d":20.05,"T":12.05},{"s":"Tvext_ent","d":20.09,"T":11.7},{"s":"Tvext_ent","d":20.12,"T":11.15},{"s":"Tvext_ent","d":20.18,"T":11.0},{"s":"Tvext_ent","d":20.24,"T":10.65},{"s":"Tvext_ent","d":20.27,"T":11.1},{"s":"Tvext_ent","d":20.30,"T":11.0},{"s":"Tvext_ent","d":20.33,"T":11.4},{"s":"Tvext_ent","d":20.38,"T":13.05},{"s":"Tvext_ent","d":20.41,"T":14.5},{"s":"Tvext_ent","d":20.44,"T":16.1},{"s":"Tvext_ent","d":20.48,"T":18.2},{"s":"Tvext_ent","d":20.51,"T":19.85},{"s":"Tvext_ent","d":20.53,"T":18.8},{"s":"Tvext_ent","d":20.55,"T":19.3},{"s":"Tvext_ent","d":20.59,"T":19.0},{"s":"Tvext_ent","d":20.63,"T":18.95},{"s":"Tvext_ent","d":20.66,"T":18.3},{"s":"Tvext_ent","d":20.68,"T":17.65},{"s":"Tvext_ent","d":20.71,"T":16.8},{"s":"Tvext_ent","d":20.75,"T":16.4},{"s":"Tvext_ent","d":20.78,"T":16.5},{"s":"Tvext_ent","d":20.81,"T":16.0},{"s":"Tvext_ent","d":20.85,"T":16.1},{"s":"Tvext_ent","d":20.88,"T":16.2},{"s":"Tvext_ent","d":20.94,"T":16.3},{"s":"Tvext_ent","d":21.00,"T":16.35}
]
},
"hconcat":[
{
 "width":602,"height":393,
 "title":{"text":"(a)","orient":"bottom","anchor":"middle","font":"Liberation Serif","fontSize":28,"fontWeight":"normal","color":"#000000","offset":2},
 "resolve":{"axis":{"x":"independent","y":"independent"}},
 "layer":[
  {"data":{"values":[{"d":15,"d2":21,"T":16},{"d":15,"d2":21,"T":18},{"d":15,"d2":21,"T":20},{"d":15,"d2":21,"T":22},{"d":15,"d2":21,"T":24},{"d":15,"d2":21,"T":26},{"d":15,"d2":21,"T":28},{"d":15,"d2":21,"T":30}]},
   "mark":{"type":"rule","color":"#d9d9d9","strokeWidth":1.2},
   "encoding":{"x":{"field":"d","type":"quantitative","scale":{"domain":[14.24855,21.20809],"nice":false,"zero":false},"axis":null},"x2":{"field":"d2"},"y":{"field":"T","type":"quantitative","scale":{"domain":[11.28,32.36],"nice":false,"zero":false},"axis":null}}},
  {"data":{"values":[{"d":15,"T":16,"T2":30}]},
   "mark":{"type":"rule","color":"#d9d9d9","strokeWidth":1.2},
   "encoding":{"x":{"field":"d","type":"quantitative","scale":{"domain":[14.24855,21.20809],"nice":false,"zero":false},"axis":null},"y":{"field":"T","type":"quantitative","scale":{"domain":[11.28,32.36],"nice":false,"zero":false},"axis":null},"y2":{"field":"T2"}}},
  {"data":{"name":"a"},
   "mark":{"type":"line","strokeWidth":2.2,"interpolate":"monotone"},
   "encoding":{
    "x":{"field":"d","type":"quantitative","scale":{"domain":[14.24855,21.20809],"nice":false,"zero":false},"axis":{"values":[15,16,17,18,19,20,21],"labelExpr":"datum.value + '/08'","offset":-88,"title":"Date","labelAngle":-60,"labelAlign":"right","labelBaseline":"middle","tickSize":6,"labelPadding":10,"titlePadding":6}},
    "y":{"field":"T","type":"quantitative","scale":{"domain":[11.28,32.36],"nice":false,"zero":false},"axis":{"values":[16,18,20,22,24,26,28,30],"offset":-65,"title":"Température (°C)","tickSize":5,"labelPadding":10,"titlePadding":3}},
    "color":{"field":"s","type":"nominal","scale":{"domain":["Tvint ouest","Tvint sud","Tvint est"],"range":["#0070C0","#92D050","#FF0000"]},"legend":{"legendX":165,"legendY":9,"columns":3}}}},
  {"data":{"values":[{"d":17.7,"T":30.5,"T2":16}]},
   "mark":{"type":"rule","color":"#000000","strokeWidth":2.5,"strokeDash":[9,5]},
   "encoding":{"x":{"field":"d","type":"quantitative","scale":{"domain":[14.24855,21.20809],"nice":false,"zero":false},"axis":null},"y":{"field":"T","type":"quantitative","scale":{"domain":[11.28,32.36],"nice":false,"zero":false},"axis":null},"y2":{"field":"T2"}}}
 ]
},
{
 "width":600,"height":393,
 "title":{"text":"(b)","orient":"bottom","anchor":"middle","font":"Liberation Serif","fontSize":28,"fontWeight":"normal","color":"#000000","offset":2},
 "resolve":{"axis":{"x":"independent","y":"independent"}},
 "layer":[
  {"data":{"values":[{"d":15,"d2":21,"T":10},{"d":15,"d2":21,"T":14},{"d":15,"d2":21,"T":18},{"d":15,"d2":21,"T":22},{"d":15,"d2":21,"T":26},{"d":15,"d2":21,"T":30}]},
   "mark":{"type":"rule","color":"#d9d9d9","strokeWidth":1.2},
   "encoding":{"x":{"field":"d","type":"quantitative","scale":{"domain":[14.23699,21.17341],"nice":false,"zero":false},"axis":null},"x2":{"field":"d2"},"y":{"field":"T","type":"quantitative","scale":{"domain":[3.2567,33.3716],"nice":false,"zero":false},"axis":null}}},
  {"data":{"values":[{"d":15,"T":10,"T2":30}]},
   "mark":{"type":"rule","color":"#d9d9d9","strokeWidth":1.2},
   "encoding":{"x":{"field":"d","type":"quantitative","scale":{"domain":[14.23699,21.17341],"nice":false,"zero":false},"axis":null},"y":{"field":"T","type":"quantitative","scale":{"domain":[3.2567,33.3716],"nice":false,"zero":false},"axis":null},"y2":{"field":"T2"}}},
  {"data":{"name":"b"},
   "mark":{"type":"line","strokeWidth":2.2,"interpolate":"monotone"},
   "encoding":{
    "x":{"field":"d","type":"quantitative","scale":{"domain":[14.23699,21.17341],"nice":false,"zero":false},"axis":{"values":[15,16,17,18,19,20,21],"labelExpr":"datum.value + '/08'","offset":-88,"title":"Date","labelAngle":-60,"labelAlign":"right","labelBaseline":"middle","tickSize":6,"labelPadding":10,"titlePadding":6}},
    "y":{"field":"T","type":"quantitative","scale":{"domain":[3.2567,33.3716],"nice":false,"zero":false},"axis":{"values":[10,14,18,22,26,30],"offset":-66,"title":"Température (°C)","tickSize":5,"labelPadding":10,"titlePadding":3}},
    "color":{"field":"s","type":"nominal","scale":{"domain":["Tvext sor","Tvext ouest","Tvext sud","Tvext est","Tvext_ent"],"range":["#F79646","#0070C0","#92D050","#FF0000","#000000"]},"legend":{"legendX":62,"legendY":9,"columns":5}}}},
  {"data":{"values":[{"d":18.715,"T":30.3,"T2":9.5}]},
   "mark":{"type":"rule","color":"#000000","strokeWidth":2.5,"strokeDash":[9,5]},
   "encoding":{"x":{"field":"d","type":"quantitative","scale":{"domain":[14.23699,21.17341],"nice":false,"zero":false},"axis":null},"y":{"field":"T","type":"quantitative","scale":{"domain":[3.2567,33.3716],"nice":false,"zero":false},"axis":null},"y2":{"field":"T2"}}}
 ]
}
]
}
